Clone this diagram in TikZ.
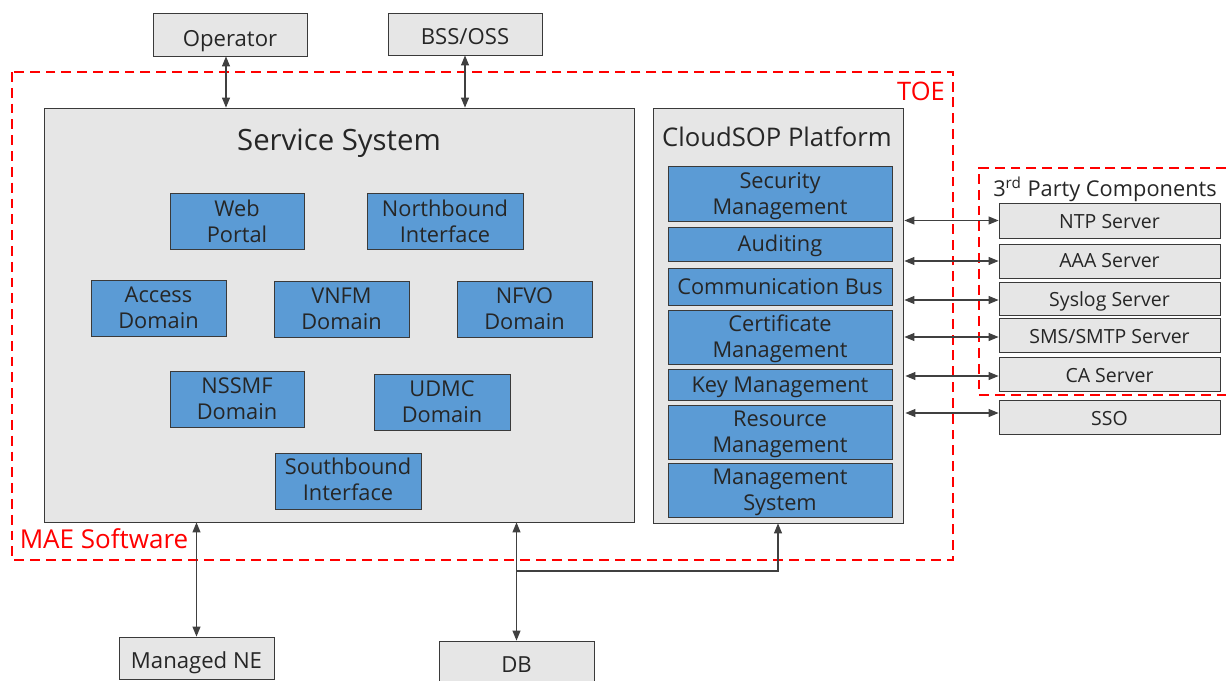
\documentclass[tikz,border=0pt]{standalone}
\usepackage{fontspec}
\setmainfont{Open Sans}
\usetikzlibrary{arrows.meta}
\usetikzlibrary{positioning}
\definecolor{boxgray}{HTML}{E6E6E6}
\definecolor{boxblue}{HTML}{5B9BD5}
\definecolor{boxline}{HTML}{3A3A3A}
\definecolor{inktext}{HTML}{262626}
\newcommand{\lowered}[2]{\raisebox{-#1}[\height][\depth]{#2}}
\tikzset{
  grayblock/.style={draw=boxline,fill=boxgray,line width=0.5pt,text=inktext,align=center,inner sep=0pt,font=\fontsize{11.1}{13.5}\selectfont},
  bigblock/.style={grayblock,font=\fontsize{12.6}{15}\selectfont},
  blueblock/.style={draw=boxline,fill=boxblue,line width=0.5pt,text=inktext,align=center,inner sep=0pt,font=\fontsize{12.4}{14.8}\selectfont},
  redframe/.style={draw=red,line width=1.3pt,dash pattern=on 5.6pt off 3.4pt},
  redlabel/.style={text=red,inner sep=0pt,font=\fontsize{14.5}{17}\selectfont},
  titlelabel/.style={text=inktext,inner sep=0pt},
  link/.style={draw=black!75,line width=0.6pt,{Triangle[length=0.2cm,width=0.16cm]}-{Triangle[length=0.2cm,width=0.16cm]}},
  linkone/.style={draw=black!75,line width=0.6pt,-{Triangle[length=0.2cm,width=0.16cm]}}
}
\begin{document}
\begin{tikzpicture}[line cap=butt,line join=miter,x=0.02cm,y=-0.02cm]
\useasboundingbox (0,0) rectangle (1228,680);
\clip (0,0) rectangle (1228,680);
% red frames
\draw[redframe] (12,72) rectangle (953,560);
\draw[redframe] (1226,168)-- (979,168)-- (979,395)-- (1226,395);
\node[redlabel] (toe) at (921,91) {TOE};
\node[redlabel,font=\fontsize{14.8}{17}\selectfont] (maelabel) at (104,539) {MAE Software};
% outside boxes
\node[bigblock,minimum width=3.08cm,minimum height=0.86cm] (operator) at (230,34.5) {\lowered{4pt}{Operator}};
\node[bigblock,minimum width=3.08cm,minimum height=0.84cm] (bssoss) at (465,34) {\lowered{1.7pt}{BSS/OSS}};
\node[bigblock,minimum width=3.1cm,minimum height=0.84cm] (managedne) at (196.5,658) {\lowered{2.8pt}{Managed NE}};
\node[bigblock,minimum width=3.1cm,minimum height=0.96cm] (db) at (516.5,665) {DB};
% service system
\node[grayblock,minimum width=11.8cm,minimum height=8.28cm] (service) at (339,315) {};
\node[titlelabel,font=\fontsize{16.7}{20}\selectfont] (servicetitle) at (339,143) {Service System};
\node[blueblock,minimum width=2.68cm,minimum height=1.12cm] (webportal) at (237,221) {Web\\Portal};
\node[blueblock,minimum width=3.12cm,minimum height=1.12cm] (northbound) at (445,221) {Northbound\\Interface};
\node[blueblock,minimum width=2.7cm,minimum height=1.12cm] (access) at (158.5,308) {Access\\Domain};
\node[blueblock,minimum width=2.7cm,minimum height=1.12cm] (vnfm) at (341.5,309) {VNFM\\Domain};
\node[blueblock,minimum width=2.7cm,minimum height=1.12cm] (nfvo) at (524.5,309) {NFVO\\Domain};
\node[blueblock,minimum width=2.68cm,minimum height=1.12cm] (nssmf) at (237,399) {NSSMF\\Domain};
\node[blueblock,minimum width=2.72cm,minimum height=1.12cm] (udmc) at (442,402) {UDMC\\Domain};
\node[blueblock,minimum width=2.92cm,minimum height=1.12cm] (southbound) at (348,481) {\lowered{-1pt}{Southbound}\\\lowered{-1pt}{Interface}};
% cloudsop platform
\node[grayblock,minimum width=5cm,minimum height=8.3cm] (cloudsop) at (778,315.5) {};
\node[titlelabel,font=\fontsize{14.6}{17}\selectfont] (cloudtitle) at (777,137) {CloudSOP Platform};
\node[blueblock,minimum width=4.48cm,minimum height=1.1cm] (security) at (780,193.5) {\lowered{1.5pt}{Security}\\\lowered{1.5pt}{Management}};
\node[blueblock,minimum width=4.48cm,minimum height=0.68cm] (auditing) at (780,244) {\lowered{1pt}{Auditing}};
\node[blueblock,minimum width=4.48cm,minimum height=0.74cm] (commbus) at (780,286.5) {Communication Bus};
\node[blueblock,minimum width=4.48cm,minimum height=1.08cm] (certificate) at (780,337) {\lowered{1pt}{Certificate}\\\lowered{1pt}{Management}};
\node[blueblock,minimum width=4.48cm,minimum height=0.62cm] (keymgmt) at (780,384.5) {\lowered{1.5pt}{Key Management}};
\node[blueblock,minimum width=4.48cm,minimum height=1.08cm] (resource) at (780,432) {\lowered{1.5pt}{Resource}\\\lowered{1.5pt}{Management}};
\node[blueblock,minimum width=4.48cm,minimum height=1.08cm] (mgmtsystem) at (780,490) {\lowered{1.5pt}{Management}\\\lowered{1.5pt}{System}};
% third party
\node[titlelabel,font=\fontsize{12.4}{14}\selectfont] (thirdtitle) at (1105,189) {3\textsuperscript{rd} Party Components};
\node[grayblock,minimum width=4.42cm,minimum height=0.7cm] (ntp) at (1109.5,220.5) {\lowered{0.5pt}{NTP Server}};
\node[grayblock,minimum width=4.42cm,minimum height=0.68cm] (aaa) at (1109.5,261) {AAA Server};
\node[grayblock,minimum width=4.42cm,minimum height=0.66cm] (syslog) at (1109.5,298.5) {\lowered{1.7pt}{Syslog Server}};
\node[grayblock,minimum width=4.42cm,minimum height=0.68cm] (smtp) at (1109.5,335) {\lowered{1pt}{SMS/SMTP Server}};
\node[grayblock,minimum width=4.42cm,minimum height=0.68cm] (caserver) at (1109.5,374) {\lowered{1pt}{CA Server}};
\node[grayblock,minimum width=4.42cm,minimum height=0.68cm] (sso) at (1109.5,417) {\lowered{1pt}{SSO}};
% connectors
\draw[link] ([xshift=-0.08cm]operator.south) -- ([xshift=-0.08cm]operator.south |- service.north);
\draw[link] (bssoss.south) -- (bssoss.south |- service.north);
\draw[link] (managedne.north) -- (managedne.north |- service.south);
\draw[link] (db.north) -- (db.north |- service.south);
\coordinate (dbjoin) at (516.5,571);
\draw[linkone] (dbjoin) -| (cloudsop.south);
\draw[link] ([xshift=0.02cm]cloudsop.east |- ntp.west) -- (ntp.west);
\draw[link] ([xshift=0.02cm]cloudsop.east |- aaa.west) -- (aaa.west);
\draw[link] ([xshift=0.02cm,yshift=-0.03cm]cloudsop.east |- syslog.west) -- ([yshift=-0.03cm]syslog.west);
\draw[link] ([xshift=0.02cm,yshift=-0.04cm]cloudsop.east |- smtp.west) -- ([yshift=-0.04cm]smtp.west);
\draw[link] ([xshift=0.04cm,yshift=-0.04cm]cloudsop.east |- caserver.west) -- ([yshift=-0.04cm]caserver.west);
\draw[link] ([xshift=0.04cm,yshift=0.08cm]cloudsop.east |- sso.west) -- ([yshift=0.08cm]sso.west);
\end{tikzpicture}
\end{document}
